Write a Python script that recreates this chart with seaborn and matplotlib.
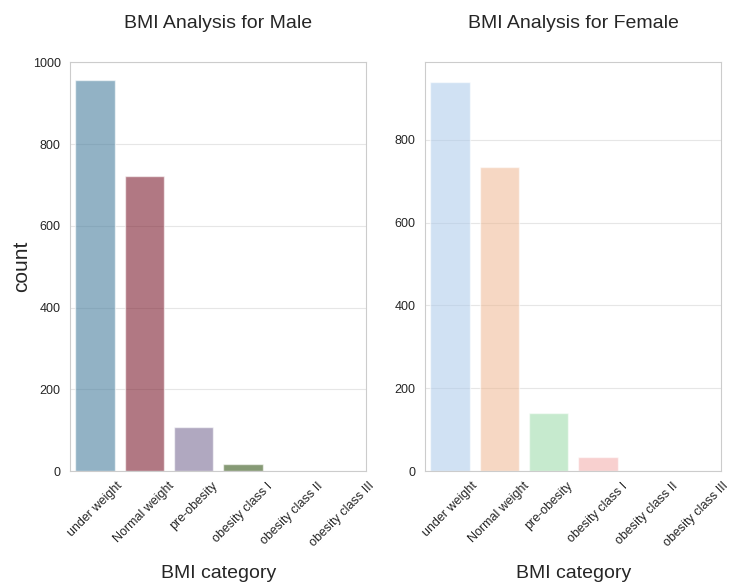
import matplotlib
matplotlib.use('Agg')
import matplotlib.pyplot as plt
import seaborn as sns
import pandas as pd

categories = ['under weight', 'Normal weight', 'pre-obesity',
              'obesity class I', 'obesity class II', 'obesity class III']
male_counts = [956, 723, 108, 17, 0, 0]
female_counts = [940, 735, 140, 34, 0, 0]

male_colors = ['#3c82ad', '#8e0f26', '#7a679d', '#35610f', '#888888', '#888888']
female_colors = sns.color_palette('pastel', 6)

sns.set_style('whitegrid', {'grid.color': '#e6e6e6', 'axes.edgecolor': '#cccccc'})
plt.rcParams['font.family'] = ['Liberation Sans', 'DejaVu Sans']

male = pd.DataFrame({'BMI category': categories, 'count': male_counts})
female = pd.DataFrame({'BMI category': categories, 'count': female_counts})

fig, (ax1, ax2) = plt.subplots(1, 2, figsize=(7.42, 5.83), dpi=100)

sns.barplot(data=male, x='BMI category', y='count', hue='BMI category',
            palette=male_colors, alpha=0.6, legend=False, ax=ax1)
sns.barplot(data=female, x='BMI category', y='count', hue='BMI category',
            palette=female_colors, alpha=0.55, legend=False, ax=ax2)

ax1.set_ylim(0, 1000)
ax1.set_title('BMI Analysis for Male', fontsize=14, pad=25)
ax2.set_title('BMI Analysis for Female', fontsize=14, pad=25)
ax1.set_ylabel('count', fontsize=15, labelpad=1)
ax2.set_ylabel('')
for ax in (ax1, ax2):
    ax.set_xlabel('BMI category', fontsize=14, labelpad=11)
    ax.tick_params(axis='x', labelrotation=45, labelsize=9, pad=3)
    ax.tick_params(axis='y', labelsize=9)
    for lab in ax.get_xticklabels():
        lab.set_ha('center')

fig.subplots_adjust(left=0.095, right=0.972, top=0.893, bottom=0.192, wspace=0.2)
fig.savefig('out.png', dpi=100)
